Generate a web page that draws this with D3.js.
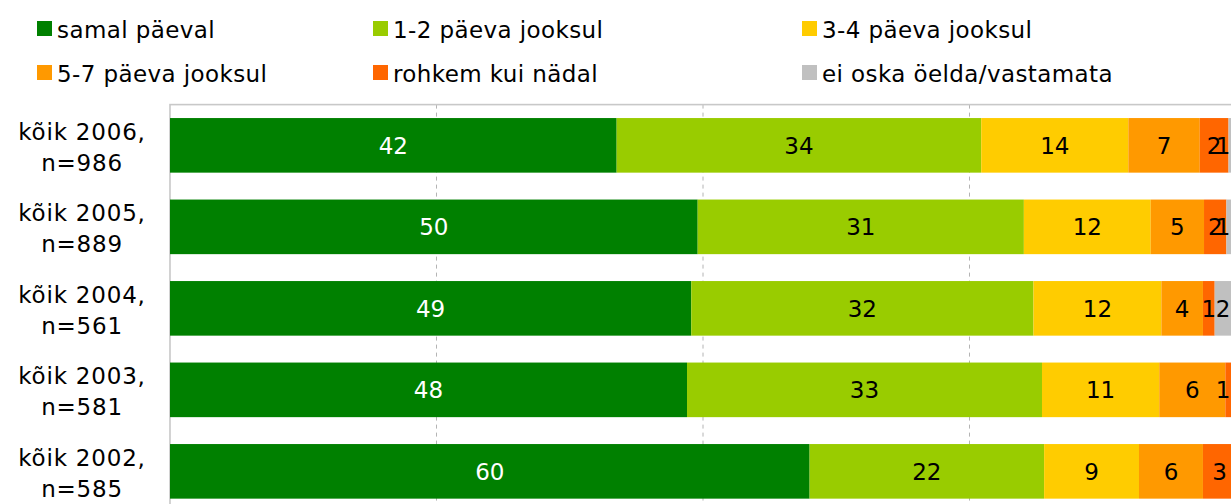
<!DOCTYPE html>
<html>
  <head>
    <meta charset="utf-8">
    <title>Stacked bars</title>
    <script src="https://d3js.org/d3.v7.min.js"></script>
    <style>
      body { margin: 0; background: #fff; }
      text { font-family: "DejaVu Sans", Verdana, sans-serif; }
    </style>
  </head>
  <body>
    <svg width="1231" height="504"></svg>
    <script>
      const seriesNames = ["samal päeval", "1-2 päeva jooksul", "3-4 päeva jooksul",
        "5-7 päeva jooksul", "rohkem kui nädal", "ei oska öelda/vastamata"];
      const colors = ["#008000", "#99cc00", "#ffcc00", "#ff9900", "#ff6600", "#c0c0c0"];

      const rowLine1 = ["kõik 2006,", "kõik 2005,", "kõik 2004,", "kõik 2003,", "kõik 2002,"];
      const rowLine2 = ["n=986", "n=889", "n=561", "n=581", "n=585"];

      // widths (percent)
      const values2006 = [41.9, 34.2, 13.8, 6.7, 2.7, 0.7];
      const values2005 = [49.5, 30.6, 11.9, 5.0, 2.1, 0.9];
      const values2004 = [48.9, 32.1, 12.0, 3.9, 1.1, 2.0];
      const values2003 = [48.5, 33.3, 11.0, 6.2, 1.0, 0];
      const values2002 = [60.0, 22.0, 8.9, 6.0, 3.1, 0];

      // labels printed in the bars
      const labels2006 = [42, 34, 14, 7, 2, 1];
      const labels2005 = [50, 31, 12, 5, 2, 1];
      const labels2004 = [49, 32, 12, 4, 1, 2];
      const labels2003 = [48, 33, 11, 6, 1, null];
      const labels2002 = [60, 22, 9, 6, 3, null];

      const xTicks = [0, 25, 50, 75, 100];

      const rows = [values2006, values2005, values2004, values2003, values2002];
      const rowLabels = [labels2006, labels2005, labels2004, labels2003, labels2002];

      const svg = d3.select("svg");
      const width = +svg.attr("width");

      const x = d3.scaleLinear().domain([0, 100]).range([170, 1236]);
      const y = d3.scaleBand()
        .domain(d3.range(rows.length))
        .range([104.6, 512.1])
        .paddingInner(0.33)
        .paddingOuter(0.165);

      // legend
      const colX = [37, 373, 802];
      const rowY = [21, 65];
      const legend = svg.selectAll("g.legend").data(seriesNames).enter().append("g")
        .attr("class", "legend")
        .attr("transform", (d, i) => `translate(${colX[i % 3]},${rowY[Math.floor(i / 3)]})`);
      legend.append("rect")
        .attr("width", 15).attr("height", 15)
        .attr("fill", (d, i) => colors[i]);
      legend.append("text")
        .attr("x", 20).attr("y", 17)
        .attr("font-size", 23)
        .attr("letter-spacing", 0.4)
        .attr("fill", "#000")
        .text(d => d);

      // gridlines
      svg.selectAll("line.grid").data(xTicks.slice(1, 4)).enter().append("line")
        .attr("class", "grid")
        .attr("x1", d => x(d)).attr("x2", d => x(d))
        .attr("y1", 104.6).attr("y2", 512)
        .attr("stroke", "#b4b4b4")
        .attr("stroke-width", 1)
        .attr("stroke-dasharray", "4,4");

      // plot border
      svg.append("rect")
        .attr("x", x(0)).attr("y", 104.6)
        .attr("width", x(100) - x(0)).attr("height", 408)
        .attr("fill", "none")
        .attr("stroke", "#c8c8c8")
        .attr("stroke-width", 1.6);

      // bars
      const stacked = rows.map((vals, r) => {
        let acc = 0;
        return vals.map((v, i) => {
          const seg = { row: r, i: i, x0: acc, x1: acc + v, label: rowLabels[r][i] };
          acc += v;
          return seg;
        });
      });

      const rowG = svg.selectAll("g.row").data(stacked).enter().append("g")
        .attr("class", "row")
        .attr("transform", (d, r) => `translate(0,${y(r)})`);

      rowG.selectAll("rect").data(d => d.filter(s => s.x1 > s.x0)).enter().append("rect")
        .attr("x", s => x(s.x0))
        .attr("width", s => x(s.x1) - x(s.x0))
        .attr("height", y.bandwidth())
        .attr("fill", s => colors[s.i]);

      // labels near the clipped right edge are kept inside the visible area
      rowG.selectAll("text").data(d => d.filter(s => s.label != null)).enter().append("text")
        .attr("x", s => Math.min((x(s.x0) + x(s.x1)) / 2, width - 8))
        .attr("y", y.bandwidth() / 2)
        .attr("dy", "0.36em")
        .attr("text-anchor", "middle")
        .attr("font-size", 23)
        .attr("fill", s => s.i === 0 ? "#fff" : "#000")
        .text(s => s.label);

      // category labels
      const cat = svg.selectAll("g.cat").data(rows).enter().append("g")
        .attr("class", "cat")
        .attr("transform", (d, r) => `translate(82,${y(r) + y.bandwidth() / 2})`);
      cat.append("text")
        .attr("y", -5.5)
        .attr("text-anchor", "middle")
        .attr("font-size", 23)
        .attr("letter-spacing", 0.8)
        .text((d, r) => rowLine1[r]);
      cat.append("text")
        .attr("y", 25.5)
        .attr("text-anchor", "middle")
        .attr("font-size", 23)
        .attr("letter-spacing", 0.8)
        .text((d, r) => rowLine2[r]);
    </script>
  </body>
</html>
